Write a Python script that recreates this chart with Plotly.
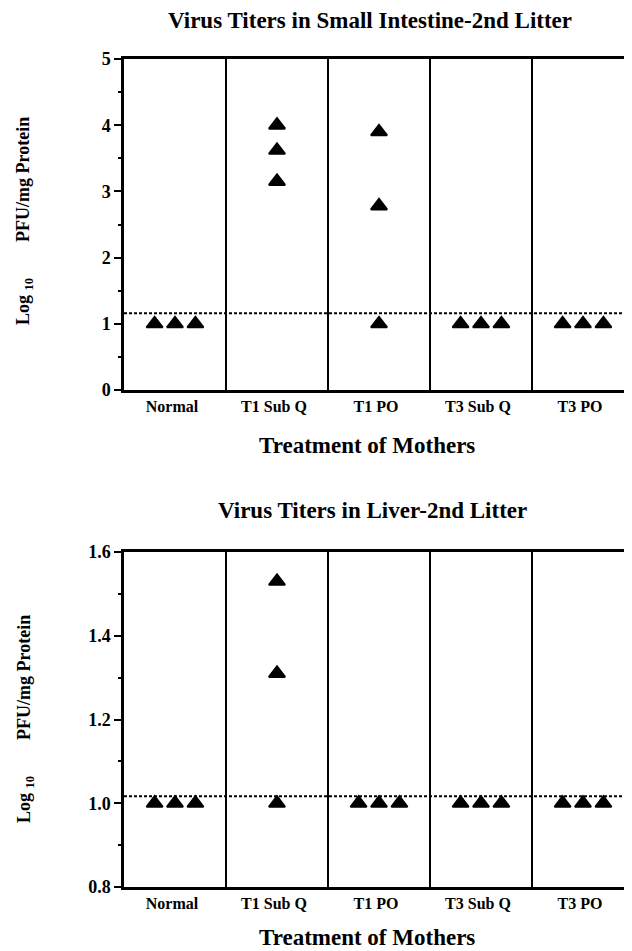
import plotly.graph_objects as go
from plotly.subplots import make_subplots

# ---- data ----
categories = ["Normal", "T1 Sub Q", "T1 PO", "T3 Sub Q", "T3 PO"]
intestine_titers = [
    [1.0, 1.0, 1.0],
    [4.0, 3.62, 3.15],
    [3.9, 2.78, 1.0],
    [1.0, 1.0, 1.0],
    [1.0, 1.0, 1.0],
]
liver_titers = [
    [1.0, 1.0, 1.0],
    [1.53, 1.31, 1.0],
    [1.0, 1.0, 1.0],
    [1.0, 1.0, 1.0],
    [1.0, 1.0, 1.0],
]
intestine_limit = 1.16
liver_limit = 1.017
intestine_ticks = [0, 1, 2, 3, 4, 5]
liver_ticks = [0.8, 1.0, 1.2, 1.4, 1.6]

title_top = "Virus Titers in Small Intestine-2nd Litter"
title_bottom = "Virus Titers in Liver-2nd Litter"
x_title = "Treatment of Mothers"
y_title = "Log <sub>10</sub>" + "\u00a0" * 8 + "PFU/mg Protein"

FONT = "Liberation Serif, Times New Roman, serif"
SPREAD = 0.2


def positions(groups):
    xs, ys = [], []
    for gi, vals in enumerate(groups):
        counts = {}
        for v in vals:
            counts[v] = counts.get(v, 0) + 1
        seen = {}
        for v in vals:
            k = counts[v]
            j = seen.get(v, 0)
            seen[v] = j + 1
            xs.append(gi + 0.5 + (j - (k - 1) / 2) * SPREAD)
            ys.append(v)
    return xs, ys


# the page body adds an 8px offset; size the figure so the viewport matches
OFF = 8
W, H = 632 - OFF, 951 - OFF
PLOT_TOP, PLOT_BOTTOM = 59 - OFF, 887 - OFF
L, R = 124 - OFF, 0
T, B = PLOT_TOP, H - PLOT_BOTTOM
plot_h = PLOT_BOTTOM - PLOT_TOP
plot_w = W - L - R
top_dom = [(887 - 390) / plot_h, 1.0]
bot_dom = [0.0, (887 - 552) / plot_h]

fig = make_subplots(rows=2, cols=1)

marker = dict(symbol="triangle-up", size=14, color="black",
              line=dict(color="black", width=2))

for row, groups in ((1, intestine_titers), (2, liver_titers)):
    xs, ys = positions(groups)
    fig.add_trace(go.Scatter(x=xs, y=ys, mode="markers", marker=marker,
                             showlegend=False, hoverinfo="skip"), row=row, col=1)

xcommon = dict(
    range=[0, plot_w / 102.0], tickmode="array",
    tickvals=[i + 0.5 for i in range(len(categories))], ticktext=categories,
    ticks="",
    tickfont=dict(family=FONT, size=16, color="black", weight="bold"),
    ticklabelshift=-3,
    showline=True, linecolor="black", linewidth=2.5, mirror=True,
    showgrid=False, zeroline=False,
    minor=dict(tickmode="array", tickvals=[1, 2, 3, 4], showgrid=True,
               gridcolor="black", gridwidth=2, ticks=""),
)
fig.update_xaxes(**xcommon)
fig.update_layout(xaxis=dict(domain=[0, 1]), xaxis2=dict(domain=[0, 1]))

ycommon = dict(
    showline=True, linecolor="black", linewidth=2.5, mirror=False,
    ticks="outside", ticklen=7, tickwidth=2, tickcolor="black",
    tickfont=dict(family=FONT, size=18, color="black", weight="bold"),
    showgrid=False, zeroline=False,
)
fig.update_yaxes(**ycommon)
fig.update_layout(
    yaxis=dict(domain=top_dom, range=[0, 5], tickvals=intestine_ticks,
               minor=dict(dtick=0.5, ticks="outside", ticklen=3, tickwidth=2,
                          tickcolor="black", showgrid=False)),
    yaxis2=dict(domain=bot_dom, range=[0.8, 1.6], tickvals=liver_ticks,
                tickformat=".1f",
                minor=dict(dtick=0.1, ticks="outside", ticklen=3, tickwidth=2,
                           tickcolor="black", showgrid=False)),
)

for xr, yr, val in (("x", "y", intestine_limit), ("x2", "y2", liver_limit)):
    fig.add_shape(type="line", xref=f"{xr} domain", yref=yr, x0=0, x1=1,
                  y0=val, y1=val, layer="above",
                  line=dict(color="black", width=2, dash="3px,2px"))


def py(pix):
    # pix is in reference (viewport) pixels
    return (887 - pix) / plot_h


def px(pix):
    return (pix - 124) / plot_w


ann_font = dict(family=FONT, size=23, color="black", weight="bold")
annotations = [
    dict(text=title_top, x=px(370), y=py(20)),
    dict(text=title_bottom, x=px(372.5), y=py(510)),
    dict(text=x_title, x=px(366.5), y=py(445.5)),
    dict(text=x_title, x=px(366.5), y=py(937.5)),
]
for a in annotations:
    fig.add_annotation(xref="paper", yref="paper", xanchor="center",
                       yanchor="middle", showarrow=False, font=ann_font, **a)

ylab_font = dict(family=FONT, size=18, color="black", weight="bold")
for cpix in (221, 719):
    fig.add_annotation(text=y_title, xref="paper", yref="paper",
                       x=px(25), y=py(cpix), xanchor="center", yanchor="middle",
                       textangle=-90, showarrow=False, font=ylab_font)

fig.update_layout(
    width=W, height=H,
    margin=dict(l=L, r=R, t=T, b=B, pad=0),
    paper_bgcolor="white", plot_bgcolor="white",
    showlegend=False,
)

fig.write_html("out.html")
